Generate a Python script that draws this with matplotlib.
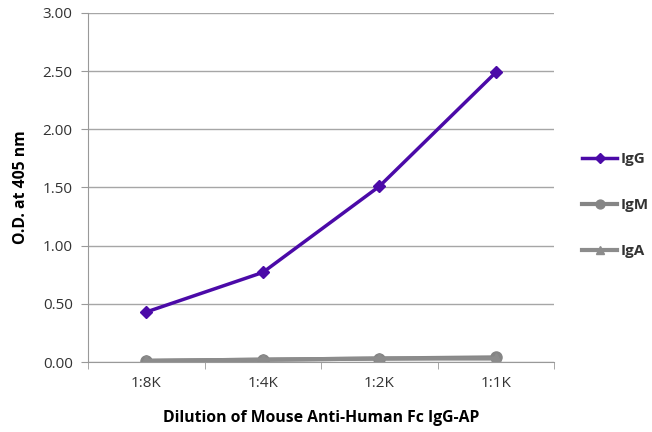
import matplotlib
matplotlib.use("Agg")
import matplotlib.pyplot as plt
import numpy as np

plt.rcParams['font.family'] = ['Open Sans', 'DejaVu Sans']

dilutions = ["1:8K", "1:4K", "1:2K", "1:1K"]
igg = [0.43, 0.77, 1.51, 2.49]
igm = [0.01, 0.02, 0.03, 0.04]
iga = [0.01, 0.02, 0.03, 0.03]

fig = plt.figure(figsize=(6.52, 4.32), dpi=100)
ax = fig.add_axes([0.135, 0.162, 0.715, 0.808])

x = np.arange(len(dilutions))
ax.plot(x, igg, color='#4B0AA8', lw=2.5, marker='D', ms=6, label='IgG', zorder=3)
ax.plot(x, igm, color='#858585', lw=3, marker='o', ms=8, label='IgM', zorder=2)
ax.plot(x, iga, color='#8c8c8c', lw=3, marker='^', ms=8, label='IgA', zorder=2)

ax.set_xlim(-0.5, len(dilutions) - 0.5)
ax.set_ylim(0, 3)
ax.set_yticks(np.arange(0, 3.01, 0.5))
ax.set_yticklabels([f"{v:.2f}" for v in np.arange(0, 3.01, 0.5)])
ax.set_xticks(x)
ax.set_xticklabels(dilutions)
ax.set_xticks(np.arange(-0.5, len(dilutions), 1), minor=True)
ax.tick_params(axis='x', which='major', length=0, pad=10)
ax.tick_params(axis='x', which='minor', length=5, color='#999999')
ax.tick_params(axis='y', length=5, color='#999999', pad=6)
ax.tick_params(labelsize=11, labelcolor='#333333')

ax.grid(axis='y', color='#a6a6a6', lw=1)
ax.set_axisbelow(True)
for s in ['top', 'right']:
    ax.spines[s].set_visible(False)
ax.spines['left'].set_color('#999999')
ax.spines['bottom'].set_color('#999999')

ax.set_xlabel('Dilution of Mouse Anti-Human Fc IgG-AP', fontsize=11.3, fontweight='bold', labelpad=14)
ax.set_ylabel('O.D. at 405 nm', fontsize=11.3, fontweight='bold', labelpad=10)

leg = ax.legend(loc='center left', bbox_to_anchor=(1.03, 0.45), frameon=False,
                fontsize=11, labelspacing=2.1, handlelength=2.3, handletextpad=0.25,
                markerscale=0.8)
for t in leg.get_texts():
    t.set_fontweight('bold')
    t.set_color('#333333')

fig.savefig("out.png", dpi=100)
